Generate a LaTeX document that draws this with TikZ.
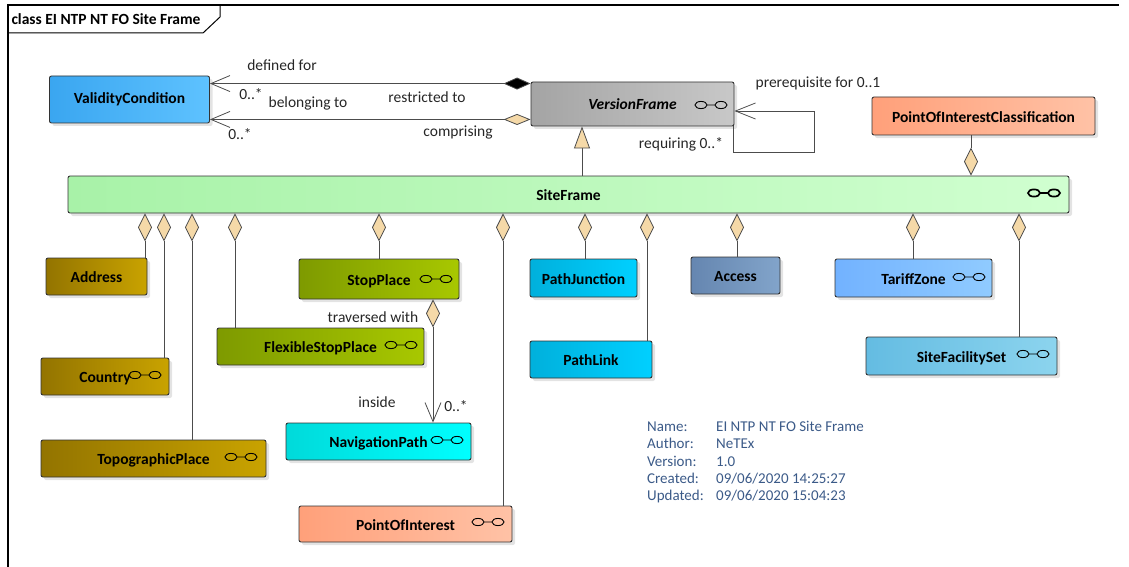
\documentclass[tikz,border=0pt]{standalone}
\usepackage{fontspec}
\setmainfont{Carlito}
\usetikzlibrary{arrows.meta,shadows}
\definecolor{vcL}{HTML}{3AA6F0}\definecolor{vcR}{HTML}{5EC2FF}
\definecolor{vfL}{HTML}{A4A4A4}\definecolor{vfR}{HTML}{C8C8C8}
\definecolor{sfL}{HTML}{A8F2A8}\definecolor{sfR}{HTML}{D0FFD0}
\definecolor{poiL}{HTML}{FFA07A}\definecolor{poiR}{HTML}{FFC2A6}
\definecolor{topL}{HTML}{937400}\definecolor{topR}{HTML}{C9A300}
\definecolor{stopL}{HTML}{7E9A00}\definecolor{stopR}{HTML}{A8C800}
\definecolor{navL}{HTML}{00DADA}\definecolor{navR}{HTML}{00FFFF}
\definecolor{pathL}{HTML}{00B0DC}\definecolor{pathR}{HTML}{00D0FF}
\definecolor{accL}{HTML}{6586B0}\definecolor{accR}{HTML}{82A4CA}
\definecolor{tzL}{HTML}{72B2FF}\definecolor{tzR}{HTML}{90CBFF}
\definecolor{sfsL}{HTML}{64BCE2}\definecolor{sfsR}{HTML}{8CD4EE}
\definecolor{diaC}{HTML}{F5D9A8}
\definecolor{infoC}{HTML}{3B5A88}
\def\fsA{15.5}
\tikzset{
	classA/.style={
		draw=black!80, line width=0.9pt, rounded corners=2pt, inner sep=0pt,
		font={\bfseries\fontsize{\fsA}{17}\selectfont},
		drop shadow={shadow xshift=3pt, shadow yshift=-3pt, opacity=0.22}
	},
	lowA/.style={text height=12pt, text depth=0pt},
	labelA/.style={inner sep=0pt, text=black!85, font={\fontsize{\fsA}{17}\selectfont}},
	lineA/.style={draw=black!70, line width=0.8pt},
	aggrA/.style={lineA, -{Diamond[length=28pt,width=14pt,fill=diaC]}},
	iconA/.style={line width=0.9pt},
	glasses/.pic={
		\draw (-10,0) ellipse (6pt and 3.6pt) (10,0) ellipse (6pt and 3.6pt) (-4,0) -- (4,0);
	},
	>=stealth,
}

\begin{document}
\begin{tikzpicture}[x=1pt, y=-1pt]
\useasboundingbox (0,0) rectangle (1129,567);
% frame
\draw[line width=1.1pt] (8,567) -- (8,5) -- (1119,5);
\draw[line width=1pt] (8,33) -- (203,33) -- (220,17) -- (220,5);
\node[labelA, font={\bfseries\fontsize{\fsA}{17}\selectfont}, text=black] (title) at (106,19) {class EI NTP NT FO Site Frame};

\node[classA, left color=vcL, right color=vcR, minimum width=160pt, minimum height=47pt] (vc) at (129.5,99.5) {ValidityCondition};
\node[classA, left color=vfL, right color=vfR, minimum width=203pt, minimum height=44pt] (vf) at (632.5,104) {\itshape VersionFrame};
\node[classA, lowA, left color=poiL, right color=poiR, minimum width=223pt, minimum height=38pt] (poic) at (983.5,116) {PointOfInterestClassification};
\node[classA, lowA, left color=sfL, right color=sfR, minimum width=1001pt, minimum height=37pt] (sf) at (568.5,194.5) {SiteFrame};

\node[classA, lowA, left color=topL, right color=topR, minimum width=101pt, minimum height=37pt] (addr) at (96.5,276.5) {Address};
\node[classA, lowA, left color=topL, right color=topR, minimum width=128pt, minimum height=37pt] (ctry) at (105,376.5) {Country};
\node[classA, lowA, left color=topL, right color=topR, minimum width=225pt, minimum height=37pt] (topo) at (153.5,458.5) {TopographicPlace};
\node[classA, lowA, left color=stopL, right color=stopR, minimum width=207pt, minimum height=37pt] (fsp) at (320.5,346.5) {FlexibleStopPlace};
\node[classA, lowA, left color=stopL, right color=stopR, minimum width=160pt, minimum height=40pt] (sp) at (379,279) {StopPlace};
\node[classA, lowA, left color=navL, right color=navR, minimum width=185pt, minimum height=37pt] (np) at (378.5,441.5) {NavigationPath};
\node[classA, lowA, left color=poiL, right color=poiR, minimum width=213pt, minimum height=36pt] (poi) at (405.5,524) {PointOfInterest};
\node[classA, lowA, left color=pathL, right color=pathR, minimum width=107pt, minimum height=38pt] (pj) at (583.5,278) {PathJunction};
\node[classA, lowA, left color=pathL, right color=pathR, minimum width=122pt, minimum height=37pt] (pl) at (591,359.5) {PathLink};
\node[classA, lowA, left color=accL, right color=accR, minimum width=89pt, minimum height=37pt] (acc) at (735.5,275.5) {Access};
\node[classA, lowA, left color=tzL, right color=tzR, minimum width=157pt, minimum height=38pt] (tz) at (913.5,278) {TariffZone};
\node[classA, lowA, left color=sfsL, right color=sfsR, minimum width=191pt, minimum height=38pt] (sfs) at (961.5,356) {SiteFacilitySet};

% icons
\pic[iconA] at (711,105) {glasses};
\pic[line width=1.7pt] at (1044,193) {glasses};
\pic[iconA] at (436,279) {glasses};
\pic[iconA] at (401,345) {glasses};
\pic[iconA] at (145,375) {glasses};
\pic[iconA] at (241,457) {glasses};
\pic[iconA] at (447,440) {glasses};
\pic[iconA] at (488,522) {glasses};
\pic[iconA] at (969,277) {glasses};
\pic[iconA] at (1033,354) {glasses};

% version frame links
\draw[lineA, {Diamond[length=27pt,width=12pt,fill=black]}-{Straight Barb[length=19pt,width=16pt]}]
  ([yshift=-2pt]vf.north west) -- ([yshift=-2pt]vf.north west -| vc.east);
\draw[lineA, {Diamond[length=27pt,width=11pt,fill=diaC]}-{Straight Barb[length=19pt,width=16pt]}]
  ([yshift=7pt]vf.south west) -- ([yshift=7pt]vf.south west -| vc.east);
\coordinate (loop) at (814,152);
\draw[lineA, -{Straight Barb[length=20pt,width=16pt]}]
  ([xshift=-1pt]vf.south east) |- (loop) |- ([yshift=-7pt]vf.east);
\draw[lineA, -{Triangle[length=22pt,width=16pt,fill=diaC]}] (sf.north -| 582,0) -- (vf.south -| 582,0);
\draw[aggrA] (poic.south -| 971,0) -- (sf.north -| 971,0);

\node[labelA] (lDef) at (282,65) {defined for};
\node[labelA] (lM1) at (251,94) {0..*};
\node[labelA] (lRes) at (427,97) {restricted to};
\node[labelA] (lBel) at (308,103) {belonging to};
\node[labelA] (lM2) at (240,134) {0..*};
\node[labelA] (lCom) at (458,132) {comprising};
\node[labelA] (lPre) at (818,83) {prerequisite for 0..1};
\node[labelA] (lReq) at (681,144) {requiring 0..*};

% site frame members
\draw[aggrA] (addr.north -| 145,0) -- (sf.south -| 145,0);
\draw[aggrA] (ctry.north -| 164,0) -- (sf.south -| 164,0);
\draw[aggrA] (topo.north -| 192,0) -- (sf.south -| 192,0);
\draw[aggrA] (fsp.north -| 235,0) -- (sf.south -| 235,0);
\draw[aggrA] (sp.north -| 379,0) -- (sf.south -| 379,0);
\draw[aggrA] (poi.north -| 503,0) -- (sf.south -| 503,0);
\draw[aggrA] (pj.north -| 585,0) -- (sf.south -| 585,0);
\draw[aggrA] (pl.north -| 647,0) -- (sf.south -| 647,0);
\draw[aggrA] (acc.north -| 737,0) -- (sf.south -| 737,0);
\draw[aggrA] (tz.north -| 913,0) -- (sf.south -| 913,0);
\draw[aggrA] (sfs.north -| 1019,0) -- (sf.south -| 1019,0);

\draw[lineA, {Diamond[length=28pt,width=14pt,fill=diaC]}-{Straight Barb[length=19pt,width=16pt]}]
  (sp.south -| 433,0) -- (np.north -| 433,0);
\node[labelA] (lTra) at (373,317) {traversed with};
\node[labelA] (lIns) at (377,402) {inside};
\node[labelA] (lM3) at (456,406) {0..*};

% notes
\node[labelA, text=infoC, anchor=north west, align=left, font={\fontsize{15}{17.3}\selectfont}] (info) at (647,421)
  {\makebox[69pt][l]{Name:}EI NTP NT FO Site Frame\\
   \makebox[69pt][l]{Author:}NeTEx\\
   \makebox[69pt][l]{Version:}1.0\\
   \makebox[69pt][l]{Created:}09/06/2020 14:25:27\\
   \makebox[69pt][l]{Updated:}09/06/2020 15:04:23};
\end{tikzpicture}
\end{document}
